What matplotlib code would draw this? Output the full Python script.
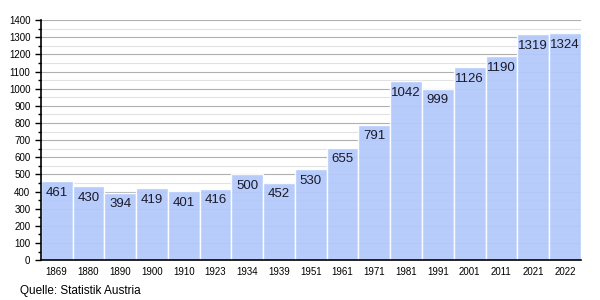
import matplotlib.pyplot as plt
import matplotlib.ticker as ticker

plt.rcParams['font.family'] = ['Liberation Sans', 'DejaVu Sans']

years = ["1869", "1880", "1890", "1900", "1910", "1923", "1934", "1939", "1951",
         "1961", "1971", "1981", "1991", "2001", "2011", "2021", "2022"]
population = [461, 430, 394, 419, 401, 416, 500, 452, 530,
              655, 791, 1042, 999, 1126, 1190, 1319, 1324]

fig = plt.figure(figsize=(6, 3), dpi=100)
ax = fig.add_axes([0.068, 0.133, 0.9, 0.8])

x = range(len(years))
bars = ax.bar(x, population, width=1.0, color='#b3c9fb', edgecolor='white',
              linewidth=1.0, zorder=2, alpha=0.93)
for xi, v in zip(x, population):
    ax.annotate(str(v), (xi, v), xytext=(0, -4), textcoords='offset points',
                ha='center', va='top', fontsize=9.5, color='#1a1a2a', zorder=3)

ax.set_xlim(-0.5, len(years) - 0.5)
ax.set_ylim(0, 1400)
ax.yaxis.set_major_locator(ticker.MultipleLocator(100))
ax.yaxis.set_minor_locator(ticker.MultipleLocator(50))
ax.grid(which='major', axis='y', color='#b0b0b0', linewidth=0.8, zorder=1)
ax.grid(which='minor', axis='y', color='#e2e2e2', linewidth=0.8, zorder=1)
ax.set_xticks(list(x))
ax.set_xticklabels(years, fontsize=7)
ax.tick_params(axis='x', length=0, pad=5)
ax.tick_params(axis='y', which='major', labelsize=7, length=4, width=1)
ax.tick_params(axis='y', which='minor', length=2, width=1)
for side in ['top', 'right']:
    ax.spines[side].set_visible(False)
ax.spines['left'].set_linewidth(1.2)
ax.spines['bottom'].set_linewidth(1.2)
ax.set_axisbelow(True)

fig.text(0.033, 0.03, "Quelle: Statistik Austria", fontsize=8.5, ha='left', va='center')

plt.savefig("out.png", dpi=100)
